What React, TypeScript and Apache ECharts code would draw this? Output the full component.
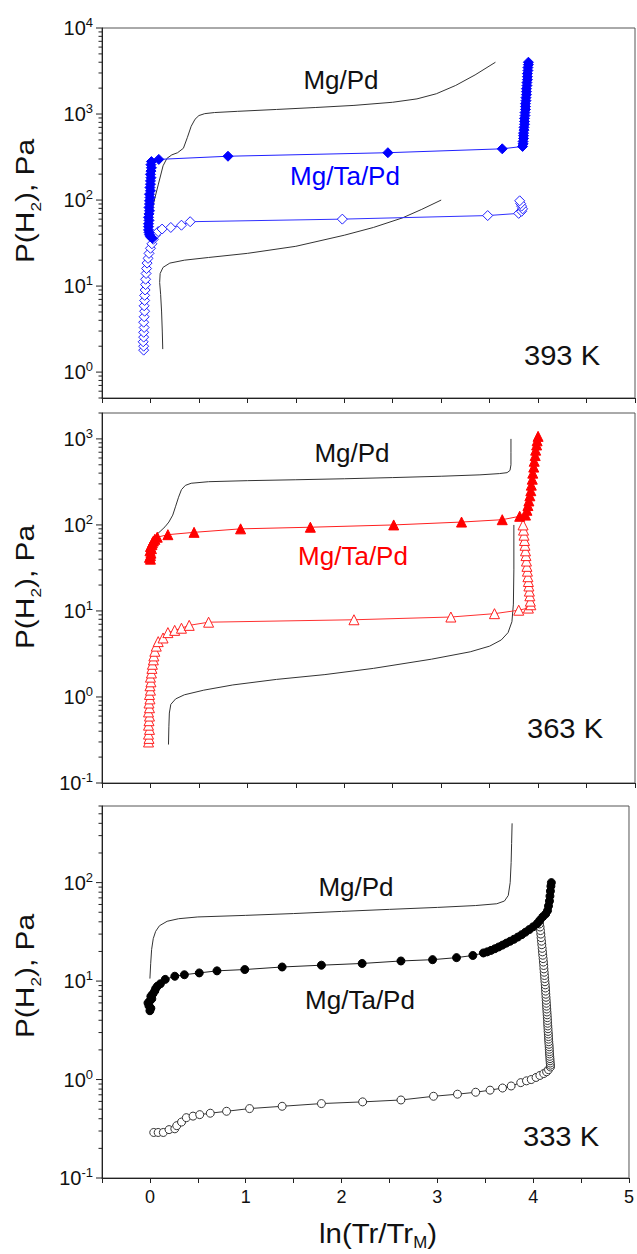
import React, { useEffect, useRef } from 'react';
import * as echarts from 'echarts';

const FONT = "'Liberation Sans', Arial, Helvetica, sans-serif";

// ---------- Panel 1: 393 K ----------
const mgPd393Abs = [
  [0.005, 55], [0.03, 90], [0.08, 150], [0.13, 250], [0.17, 305], [0.22, 335], [0.28, 355], [0.34, 400],
  [0.38, 530], [0.42, 720], [0.46, 870], [0.5, 960], [0.56, 1010], [0.66, 1040], [0.9, 1075], [1.3, 1130],
  [1.7, 1190], [2.1, 1260], [2.5, 1370], [2.75, 1500], [2.95, 1720], [3.15, 2150], [3.35, 2850], [3.56, 4000],
];
const mgPd393Des = [
  [0.127, 1.85], [0.122, 3], [0.115, 5], [0.105, 8], [0.095, 11], [0.1, 14], [0.13, 16.5], [0.2, 18.5],
  [0.35, 20], [0.6, 21.5], [1.0, 24], [1.5, 29], [2.0, 39], [2.3, 48], [2.6, 62], [2.8, 78], [3.0, 100],
];
const mgTaPd393Abs = [
  [0.02, 36], [0.0, 37.5], [-0.01, 39.5], [-0.015, 42], [-0.02, 45], [-0.02, 49], [-0.02, 53], [-0.015, 58],
  [-0.02, 63], [-0.015, 69], [-0.01, 75], [-0.015, 82], [-0.01, 90], [-0.01, 98], [-0.005, 107], [-0.01, 117],
  [0.0, 128], [-0.005, 140], [0.0, 153], [0.0, 167], [0.005, 182], [0.0, 199], [0.005, 217], [0.01, 237],
  [0.005, 258], [0.01, 280], [0.086, 297], [0.8, 323], [2.45, 355], [3.63, 394], [3.84, 420],
  [3.845, 450], [3.845, 480], [3.85, 520], [3.85, 560], [3.85, 600], [3.855, 650], [3.855, 700], [3.86, 760],
  [3.86, 820], [3.86, 890], [3.865, 960], [3.865, 1040], [3.87, 1130], [3.87, 1220], [3.87, 1320], [3.875, 1430],
  [3.875, 1550], [3.88, 1680], [3.88, 1820], [3.88, 1970], [3.885, 2140], [3.885, 2320], [3.89, 2510],
  [3.89, 2720], [3.89, 2950], [3.895, 3200], [3.895, 3470], [3.9, 3750], [3.9, 4000],
];
const mgTaPd393Des = [
  [-0.07, 1.8], [-0.07, 2.0], [-0.075, 2.25], [-0.07, 2.55], [-0.07, 2.9], [-0.065, 3.3], [-0.07, 3.8],
  [-0.065, 4.4], [-0.06, 5.1], [-0.065, 5.9], [-0.06, 6.8], [-0.06, 7.8], [-0.055, 9.0], [-0.05, 10.4],
  [-0.05, 12], [-0.045, 14], [-0.04, 16], [-0.035, 18.5], [-0.025, 21], [-0.015, 24], [0.0, 27.5], [0.015, 31],
  [0.03, 35], [0.05, 39], [0.08, 43], [0.12, 46], [0.21, 48], [0.32, 51], [0.41, 56], [1.98, 60], [3.48, 66],
  [3.8, 70], [3.83, 74], [3.84, 79], [3.83, 85], [3.82, 91], [3.81, 98],
];

// ---------- Panel 2: 363 K ----------
const mgPd363Abs = [
  [0.05, 75], [0.1, 84], [0.15, 95], [0.19, 108], [0.23, 130], [0.26, 165], [0.29, 210], [0.32, 257],
  [0.36, 288], [0.42, 305], [0.6, 318], [1.0, 327], [1.5, 335], [2.0, 344], [2.5, 355], [3.0, 368],
  [3.4, 382], [3.6, 395], [3.68, 405], [3.71, 430], [3.72, 500], [3.72, 700], [3.72, 1000],
];
const mgPd363Des = [
  [0.186, 0.28], [0.19, 0.45], [0.195, 0.65], [0.21, 0.82], [0.26, 0.95], [0.35, 1.06], [0.55, 1.2],
  [0.85, 1.38], [1.3, 1.6], [1.8, 1.82], [2.3, 2.15], [2.9, 2.75], [3.3, 3.35], [3.5, 3.9], [3.62, 4.6],
  [3.69, 5.6], [3.73, 7.5], [3.745, 12], [3.75, 30], [3.75, 100],
];
const mgTaPd363Abs = [
  [0.0, 40], [-0.01, 42], [0.0, 44], [0.005, 47], [-0.005, 50], [0.01, 53], [0.0, 56], [0.015, 59],
  [0.02, 62], [0.03, 65], [0.045, 68], [0.07, 72], [0.18, 77], [0.45, 82], [0.93, 90], [1.65, 94],
  [2.51, 100], [3.21, 108], [3.63, 115], [3.81, 126], [3.87, 130], [3.885, 148], [3.895, 168], [3.905, 190],
  [3.915, 218], [3.925, 250], [3.93, 290], [3.94, 340], [3.945, 400], [3.955, 470], [3.96, 550], [3.97, 640],
  [3.975, 740], [3.985, 850], [3.99, 950], [4.0, 1070],
];
const mgTaPd363Des = [
  [-0.02, 0.3], [-0.015, 0.33], [-0.02, 0.37], [-0.01, 0.42], [-0.02, 0.47], [-0.015, 0.53], [-0.01, 0.6],
  [-0.02, 0.67], [-0.01, 0.75], [-0.015, 0.85], [-0.005, 0.95], [-0.01, 1.07], [0.0, 1.2], [-0.005, 1.35],
  [0.005, 1.5], [0.0, 1.7], [0.01, 1.9], [0.015, 2.15], [0.02, 2.4], [0.03, 2.7], [0.035, 3.0], [0.045, 3.4],
  [0.06, 3.9], [0.08, 4.4], [0.13, 4.85], [0.18, 5.6], [0.25, 5.95], [0.32, 6.3], [0.4, 6.8], [0.6, 7.4],
  [2.1, 7.9], [3.1, 8.5], [3.55, 9.3], [3.8, 10.2], [3.9, 10.8], [3.925, 11.8], [3.92, 13], [3.915, 15],
  [3.91, 17], [3.905, 19.5], [3.9, 22], [3.895, 25], [3.89, 29], [3.885, 33], [3.88, 38], [3.875, 44],
  [3.87, 50], [3.865, 58], [3.86, 66], [3.855, 76], [3.85, 87], [3.845, 100],
];

// ---------- Panel 3: 333 K ----------
const mgPd333Abs = [
  [0.0, 10.6], [0.008, 15], [0.018, 21], [0.035, 27], [0.06, 32], [0.1, 36.5], [0.18, 40.5], [0.3, 43],
  [0.5, 44.8], [1.0, 46.5], [1.5, 48.5], [2.0, 51], [2.5, 53.5], [3.0, 56], [3.4, 58.5], [3.62, 61],
  [3.7, 65], [3.74, 74], [3.76, 100], [3.77, 160], [3.775, 250], [3.78, 400],
];
const mgTaPd333Abs = [
  [0.0, 5.0], [0.01, 5.3], [-0.01, 5.6], [-0.02, 6.0], [0.0, 6.3], [0.02, 6.6], [0.01, 7.0], [0.03, 7.4],
  [0.05, 7.9], [0.06, 8.4], [0.08, 8.9], [0.11, 9.4], [0.16, 10.4], [0.26, 11.2], [0.36, 11.6], [0.515, 12.1],
  [0.7, 12.7], [0.99, 13.1], [1.38, 13.9], [1.79, 14.5], [2.215, 15.1], [2.62, 16.0], [2.95, 16.5], [3.2, 17.3],
  [3.37, 18.2], [3.48, 19.3], [3.52, 19.8], [3.56, 20.5], [3.6, 21.3], [3.64, 22.2], [3.68, 23.2], [3.72, 24.3],
  [3.76, 25.4], [3.8, 26.6], [3.84, 28], [3.88, 29.6], [3.92, 31.4], [3.96, 33.4], [4.0, 35.6], [4.04, 38.2],
  [4.07, 41.5], [4.1, 45], [4.13, 48], [4.15, 52], [4.16, 58], [4.17, 65], [4.175, 73], [4.18, 82],
  [4.185, 92], [4.19, 100],
];
const mgTaPd333Des = [
  [0.04, 0.29], [0.086, 0.29], [0.14, 0.29], [0.2, 0.31], [0.26, 0.316], [0.28, 0.34], [0.33, 0.37],
  [0.38, 0.41], [0.45, 0.425], [0.52, 0.44], [0.63, 0.455], [0.8, 0.476], [1.04, 0.507], [1.38, 0.535],
  [1.79, 0.57], [2.22, 0.593], [2.62, 0.62], [2.96, 0.676], [3.21, 0.71], [3.4, 0.743], [3.55, 0.78],
  [3.68, 0.82], [3.77, 0.86], [3.87, 0.93], [3.93, 0.97], [3.98, 1.0], [4.03, 1.05], [4.07, 1.1], [4.11, 1.15],
  [4.14, 1.2], [4.16, 1.26], [4.18, 1.34], [4.18, 1.4], [4.178, 1.47], [4.176, 1.55], [4.175, 1.63],
  [4.173, 1.72], [4.171, 1.82], [4.17, 1.92], [4.168, 2.03], [4.167, 2.15], [4.165, 2.28], [4.163, 2.42],
  [4.161, 2.57], [4.16, 2.73], [4.158, 2.9], [4.156, 3.08], [4.155, 3.28], [4.153, 3.5], [4.151, 3.73],
  [4.15, 3.98], [4.148, 4.25], [4.146, 4.54], [4.144, 4.85], [4.142, 5.2], [4.14, 5.56], [4.138, 5.95],
  [4.136, 6.38], [4.134, 6.85], [4.132, 7.35], [4.13, 7.9], [4.128, 8.5], [4.126, 9.15], [4.123, 9.85],
  [4.12, 10.6], [4.118, 11.4], [4.115, 12.3], [4.112, 13.3], [4.11, 14.4], [4.107, 15.6], [4.104, 16.9],
  [4.1, 18.3], [4.097, 19.8], [4.094, 21.5], [4.09, 23.4], [4.087, 25.4], [4.083, 27.6], [4.08, 30],
  [4.076, 32.6], [4.072, 35.4], [4.066, 38], [4.06, 40],
];

// ---------- axes / labels ----------
const xTickLabels = ['0', '1', '2', '3', '4', '5'];
const yRanges = [[0.5, 10000], [0.1, 2000], [0.1, 600]];
const tickMultipliers = [1, 2, 3, 4, 5, 6, 7, 8, 9];
const tickExponents = [-1, 0, 1, 2, 3, 4];
const tempLabels = ['393 K', '363 K', '333 K'];
const sampleLabels = ['Mg/Pd', 'Mg/Ta/Pd'];

const grids = [
  { left: 102, top: 28, width: 533, height: 370 },
  { left: 102, top: 413, width: 533, height: 370 },
  { left: 102, top: 806, width: 533, height: 372 },
];

function logTicks(min: number, max: number) {
  const out: number[][] = [];
  for (const e of tickExponents) {
    for (const m of tickMultipliers) {
      const v = m * Math.pow(10, e);
      if (v >= min * 0.999 && v <= max * 1.001) out.push([-0.5, v, m === 1 ? 1 : 0]);
    }
  }
  return out;
}

function tickSeries(gi: number) {
  return {
    type: 'custom',
    xAxisIndex: gi,
    yAxisIndex: gi,
    clip: false,
    silent: true,
    z: 10,
    data: logTicks(yRanges[gi][0], yRanges[gi][1]),
    renderItem: (_p: any, api: any) => {
      const pt = api.coord([api.value(0), api.value(1)]);
      const len = api.value(2) ? 6 : 3.5;
      return {
        type: 'line',
        shape: { x1: pt[0] - len, y1: pt[1], x2: pt[0], y2: pt[1] },
        style: { stroke: '#222', lineWidth: 1 },
      };
    },
  };
}

function curve(gi: number, data: number[][]) {
  return {
    type: 'line', xAxisIndex: gi, yAxisIndex: gi, data, symbol: 'none', showSymbol: false,
    lineStyle: { color: '#333', width: 1 }, z: 2, silent: true,
  };
}

function marked(gi: number, data: number[][], symbol: string, size: number, fill: string, stroke: string, line: string) {
  return {
    type: 'line', xAxisIndex: gi, yAxisIndex: gi, data, symbol, symbolSize: size, showSymbol: true,
    itemStyle: { color: fill, borderColor: stroke, borderWidth: 1 },
    lineStyle: { color: line, width: 1 }, z: 3, silent: true,
  };
}

function gText(text: string, x: number, y: number, size: number, color: string, extra: any = {}) {
  return {
    type: 'text', x, y, z: 50, ...extra,
    style: {
      text, fill: color, fontSize: size, fontFamily: FONT,
      align: 'center', verticalAlign: 'middle', ...(extra.style || {}),
    },
  };
}

const yTitleCenters = [201, 587, 976];
const annot = [
  { mgPd: [341, 80], mgTa: [345, 176], temp: [562, 356], color: '#0000ff' },
  { mgPd: [352, 453], mgTa: [353, 556], temp: [565, 729], color: '#ff0000' },
  { mgPd: [356, 887], mgTa: [360, 1000], temp: [561, 1137], color: '#111111' },
];

function buildOption() {
  const xAxis = grids.map((_, i) => ({
    type: 'value', gridIndex: i, min: -0.5, max: 5, interval: 0.5,
    axisLine: { show: true, onZero: false, lineStyle: { color: '#222', width: 1 } },
    axisTick: { show: true, inside: false, length: 5, lineStyle: { color: '#222' } },
    splitLine: { show: false },
    axisLabel: i === 2 ? {
      show: true, fontSize: 18, color: '#111', fontFamily: FONT, margin: 10,
      formatter: (v: number) => {
        const k = Math.round(v);
        return Math.abs(v - k) < 1e-6 && k >= 0 && k < xTickLabels.length ? xTickLabels[k] : '';
      },
    } : { show: false },
  }));
  const yAxis = grids.map((_, i) => ({
    type: 'log', logBase: 10, gridIndex: i, min: yRanges[i][0], max: yRanges[i][1],
    axisLine: { show: true, onZero: false, lineStyle: { color: '#222', width: 1 } },
    axisTick: { show: false }, minorTick: { show: false }, splitLine: { show: false },
    axisLabel: {
      margin: 9,
      formatter: (v: number) => {
        const e = Math.log10(v);
        const r = Math.round(e);
        if (Math.abs(e - r) > 1e-6) return '';
        return `{b|10}{s|${r}}`;
      },
      rich: {
        b: { fontSize: 20, fontFamily: FONT, color: '#111', lineHeight: 24 },
        s: { fontSize: 13, fontFamily: FONT, color: '#111', lineHeight: 13, verticalAlign: 'top' },
      },
    },
  }));

  const series: any[] = [
    tickSeries(0), tickSeries(1), tickSeries(2),
    curve(0, mgPd393Abs), curve(0, mgPd393Des),
    marked(0, mgTaPd393Des, 'diamond', 10, '#ffffff', '#2020ff', '#3030ff'),
    marked(0, mgTaPd393Abs, 'diamond', 10, '#0000ff', '#0000ff', '#2020ff'),
    curve(1, mgPd363Abs), curve(1, mgPd363Des),
    marked(1, mgTaPd363Des, 'triangle', 10, '#ffffff', '#ff2020', '#ff3030'),
    marked(1, mgTaPd363Abs, 'triangle', 10, '#ff0000', '#ff0000', '#ff2020'),
    curve(2, mgPd333Abs),
    marked(2, mgTaPd333Des, 'circle', 8, '#ffffff', '#333333', '#333333'),
    marked(2, mgTaPd333Abs, 'circle', 8, '#000000', '#000000', '#222222'),
  ];

  const graphic: any[] = [];
  yTitleCenters.forEach((cy) => {
    graphic.push(gText('{a|P(H}{s|2}{a|), Pa}', 25, cy, 26, '#111', {
      rotation: Math.PI / 2, scaleX: 1.15,
      style: {
        rich: {
          a: { fontSize: 26, fontFamily: FONT, fill: '#111', lineHeight: 36 },
          s: { fontSize: 15, fontFamily: FONT, fill: '#111', lineHeight: 14, verticalAlign: 'bottom' },
        },
      },
    }));
  });
  annot.forEach((a, i) => {
    graphic.push(gText(sampleLabels[0], a.mgPd[0], a.mgPd[1], 26, '#111'));
    graphic.push(gText(sampleLabels[1], a.mgTa[0], a.mgTa[1], 26, a.color));
    graphic.push(gText(tempLabels[i], a.temp[0], a.temp[1], 27, '#111', { scaleX: 1.08 }));
  });
  graphic.push(gText('{a|ln(Tr/Tr}{s|M}{a|)}', 378, 1233, 28, '#111', {
    scaleX: 1.05,
    style: {
      rich: {
        a: { fontSize: 28, fontFamily: FONT, fill: '#111', lineHeight: 34 },
        s: { fontSize: 16, fontFamily: FONT, fill: '#111', lineHeight: 16, verticalAlign: 'bottom' },
      },
    },
  }));

  return {
    animation: false,
    backgroundColor: '#ffffff',
    grid: grids.map((g) => ({ ...g, show: true, borderColor: '#555', borderWidth: 1, backgroundColor: 'transparent' })),
    xAxis, yAxis, series, graphic,
  };
}

export default function App() {
  const ref = useRef<HTMLDivElement>(null);
  useEffect(() => {
    if (!ref.current) return;
    const chart = echarts.init(ref.current, null, { renderer: 'svg' });
    chart.setOption(buildOption() as any);
    return () => chart.dispose();
  }, []);
  return (
    <div
      ref={ref}
      style={{ position: 'absolute', left: 0, top: 0, width: 637, height: 1254, background: '#fff' }}
    />
  );
}
